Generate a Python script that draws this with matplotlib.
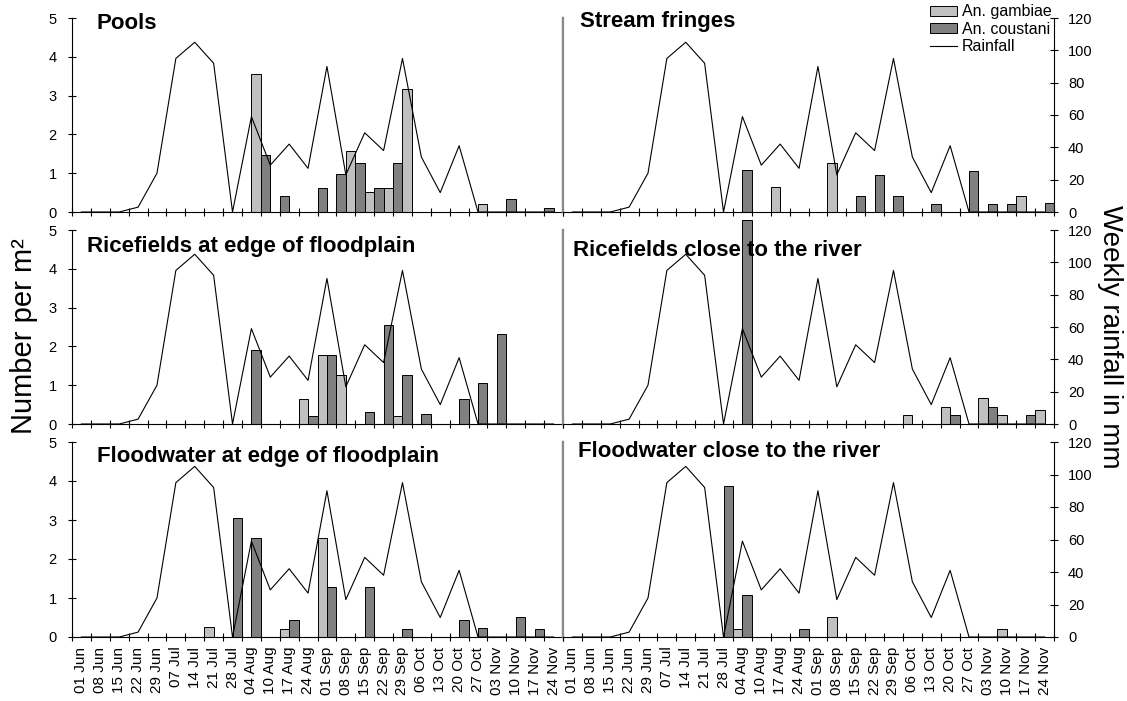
import matplotlib.pyplot as plt
import numpy as np

# Fuente parecida a Arial / Helvetica
plt.rcParams['font.family'] = ['Liberation Sans', 'DejaVu Sans']

# Semanas del eje x
fechas = ["01 Jun", "08 Jun", "15 Jun", "22 Jun", "29 Jun", "07 Jul", "14 Jul",
          "21 Jul", "28 Jul", "04 Aug", "10 Aug", "17 Aug", "24 Aug", "01 Sep",
          "08 Sep", "15 Sep", "22 Sep", "29 Sep", "06 Oct", "13 Oct", "20 Oct",
          "27 Oct", "03 Nov", "10 Nov", "17 Nov", "24 Nov"]

# Lluvia semanal en mm (igual en los seis paneles)
lluvia = [0, 0, 0, 3, 24, 95, 105, 92, 0, 59, 29, 42, 27, 90, 23, 49, 38, 95,
          34, 12, 41, 0, 0, 0, 0, 0]

# Número de larvas por m2
pools_gambiae = [0, 0, 0, 0, 0, 0, 0, 0, 0, 3.56, 0, 0, 0, 0, 1.58, 0.52, 0.63,
                 3.18, 0, 0, 0, 0.2, 0, 0, 0, 0]
pools_coustani = [0, 0, 0, 0, 0, 0, 0, 0, 0, 0, 1.48, 0.42, 0, 0.63, 0.97, 1.27,
                  0.63, 1.27, 0, 0, 0, 0, 0, 0.34, 0, 0.1]

stream_gambiae = [0, 0, 0, 0, 0, 0, 0, 0, 0, 0, 0, 0.64, 0, 0, 1.27, 0, 0, 0,
                  0, 0, 0, 0, 0, 0, 0.41, 0]
stream_coustani = [0, 0, 0, 0, 0, 0, 0, 0, 0, 1.09, 0, 0, 0, 0, 0, 0.41, 0.96,
                   0.41, 0, 0.2, 0, 1.05, 0.2, 0.2, 0, 0.24]

arroz_borde_gambiae = [0, 0, 0, 0, 0, 0, 0, 0, 0, 0, 0, 0, 0.65, 1.79, 1.27, 0,
                       0, 0.2, 0, 0, 0, 0, 0, 0, 0, 0]
arroz_borde_coustani = [0, 0, 0, 0, 0, 0, 0, 0, 0, 1.92, 0, 0, 0.2, 1.79, 0, 0.3,
                        2.55, 1.27, 0.26, 0, 0.64, 1.06, 2.33, 0, 0, 0]

arroz_rio_gambiae = [0, 0, 0, 0, 0, 0, 0, 0, 0, 0, 0, 0, 0, 0, 0, 0, 0, 0, 0.23,
                     0, 0.43, 0, 0.66, 0.22, 0, 0.35]
arroz_rio_coustani = [0, 0, 0, 0, 0, 0, 0, 0, 0, 5.25, 0, 0, 0, 0, 0, 0, 0, 0, 0,
                      0, 0.22, 0, 0.43, 0, 0.22, 0]

inund_borde_gambiae = [0, 0, 0, 0, 0, 0, 0, 0.26, 0, 0, 0, 0.2, 0, 2.54, 0, 0, 0,
                       0, 0, 0, 0, 0, 0, 0, 0, 0]
inund_borde_coustani = [0, 0, 0, 0, 0, 0, 0, 0, 3.05, 2.54, 0, 0.44, 0, 1.28, 0,
                        1.28, 0, 0.2, 0, 0, 0.44, 0.24, 0, 0.51, 0.2, 0]

inund_rio_gambiae = [0, 0, 0, 0, 0, 0, 0, 0, 0, 0.21, 0, 0, 0, 0, 0.51, 0, 0, 0,
                     0, 0, 0, 0, 0, 0.21, 0, 0]
inund_rio_coustani = [0, 0, 0, 0, 0, 0, 0, 0, 3.86, 1.08, 0, 0, 0.21, 0, 0, 0, 0,
                      0, 0, 0, 0, 0, 0, 0, 0, 0]

titulos = ["Pools", "Stream fringes",
           "Ricefields at edge of floodplain", "Ricefields close to the river",
           "Floodwater at edge of floodplain", "Floodwater close to the river"]
datos = [(pools_gambiae, pools_coustani), (stream_gambiae, stream_coustani),
         (arroz_borde_gambiae, arroz_borde_coustani), (arroz_rio_gambiae, arroz_rio_coustani),
         (inund_borde_gambiae, inund_borde_coustani), (inund_rio_gambiae, inund_rio_coustani)]

# Posición de los títulos dentro de cada panel (fracción de ejes)
pos_titulos = [(0.049, 0.944), (0.035, 0.955), (0.031, 0.887),
               (0.020, 0.867), (0.050, 0.898), (0.030, 0.924)]

# Caja de cada panel en la figura (en píxeles de 1127x701)
W, H = 1127, 701
col_x = [72, 563]
fila_y = [(18, 212), (230, 424), (442, 637)]
ancho_px = 491

gris_claro = '#c0c0c0'
gris_oscuro = '#808080'
gris_borde = '#8a8a8a'

fig = plt.figure(figsize=(W / 100, H / 100), dpi=100)
x = np.arange(len(fechas))

for i, (titulo, (gamb, cous)) in enumerate(zip(titulos, datos)):
    fila, col = divmod(i, 2)
    arriba, abajo = fila_y[fila]
    ax = fig.add_axes([col_x[col] / W, 1 - abajo / H, ancho_px / W, (abajo - arriba) / H])

    g = np.array(gamb)
    c = np.array(cous)
    # En "Pools" las barras aparecen en orden invertido dentro de cada semana
    if i == 0:
        xg, xc = x + 0.25, x - 0.25
    else:
        xg, xc = x - 0.25, x + 0.25
    ax.bar(xg[g > 0], g[g > 0], width=0.5, color=gris_claro, edgecolor='black',
           linewidth=0.7, label='An. gambiae', clip_on=False, zorder=2)
    ax.bar(xc[c > 0], c[c > 0], width=0.5, color=gris_oscuro, edgecolor='black',
           linewidth=0.7, label='An. coustani', clip_on=False, zorder=2)
    ax.set_xlim(-0.5, len(fechas) - 0.5)
    ax.set_ylim(0, 5)

    # La lluvia va en un eje secundario
    ax2 = ax.twinx()
    ax2.plot(x, lluvia, color='black', linewidth=0.8, label='Rainfall')
    ax2.set_ylim(0, 120)

    # Bordes
    ax.spines['top'].set_visible(False)
    for lado in ['top', 'left', 'bottom']:
        ax2.spines[lado].set_visible(False)

    # Marcas del eje x entre las categorías y textos en el centro
    ax.set_xticks(np.arange(-0.5, len(fechas), 1))
    ax.set_xticklabels([])
    ax.tick_params(axis='x', which='major', direction='inout', length=6, width=0.8)
    ax.set_xticks(x, minor=True)
    if fila == 2:
        ax.set_xticklabels(fechas, minor=True, rotation=90, fontsize=11)
    else:
        ax.set_xticklabels([], minor=True)
    ax.tick_params(axis='x', which='minor', length=0, pad=7)

    if col == 0:
        ax.spines['right'].set_color(gris_borde)
        ax.spines['right'].set_linewidth(1.6)
        ax2.spines['right'].set_visible(False)
        ax2.set_yticks([])
        ax.set_yticks(range(6))
        ax.tick_params(axis='y', direction='inout', length=6, width=0.8, pad=8, labelsize=10.5)
    else:
        ax.spines['left'].set_color(gris_borde)
        ax.spines['left'].set_linewidth(1.6)
        ax.spines['right'].set_visible(False)
        ax.set_yticks([])
        ax2.set_yticks(range(0, 121, 20))
        ax2.tick_params(axis='y', direction='inout', length=6, width=0.8, pad=7, labelsize=10.5)

    tx, ty = pos_titulos[i]
    ax2.text(tx, ty, titulo, transform=ax.transAxes, fontsize=16, fontweight='bold',
             va='baseline', ha='left', zorder=5)

    # Leyenda solo en el panel de arriba a la derecha
    if i == 1:
        h1, l1 = ax.get_legend_handles_labels()
        h2, l2 = ax2.get_legend_handles_labels()
        ax2.legend(h1 + h2, l1 + l2, loc='upper right', bbox_to_anchor=(0.995, 1.07),
                   frameon=False, fontsize=11.5, handlelength=1.7, handleheight=0.6,
                   handletextpad=0.3, labelspacing=0.15, borderaxespad=0, borderpad=0)

# Títulos de los ejes compartidos
fig.text(0.0213, 0.52, "Number per m²", rotation=90, va='center', ha='center', fontsize=21)
fig.text(0.985, 0.52, "Weekly rainfall in mm", rotation=270, va='center', ha='center', fontsize=20)

plt.savefig("out.png", dpi=100)
